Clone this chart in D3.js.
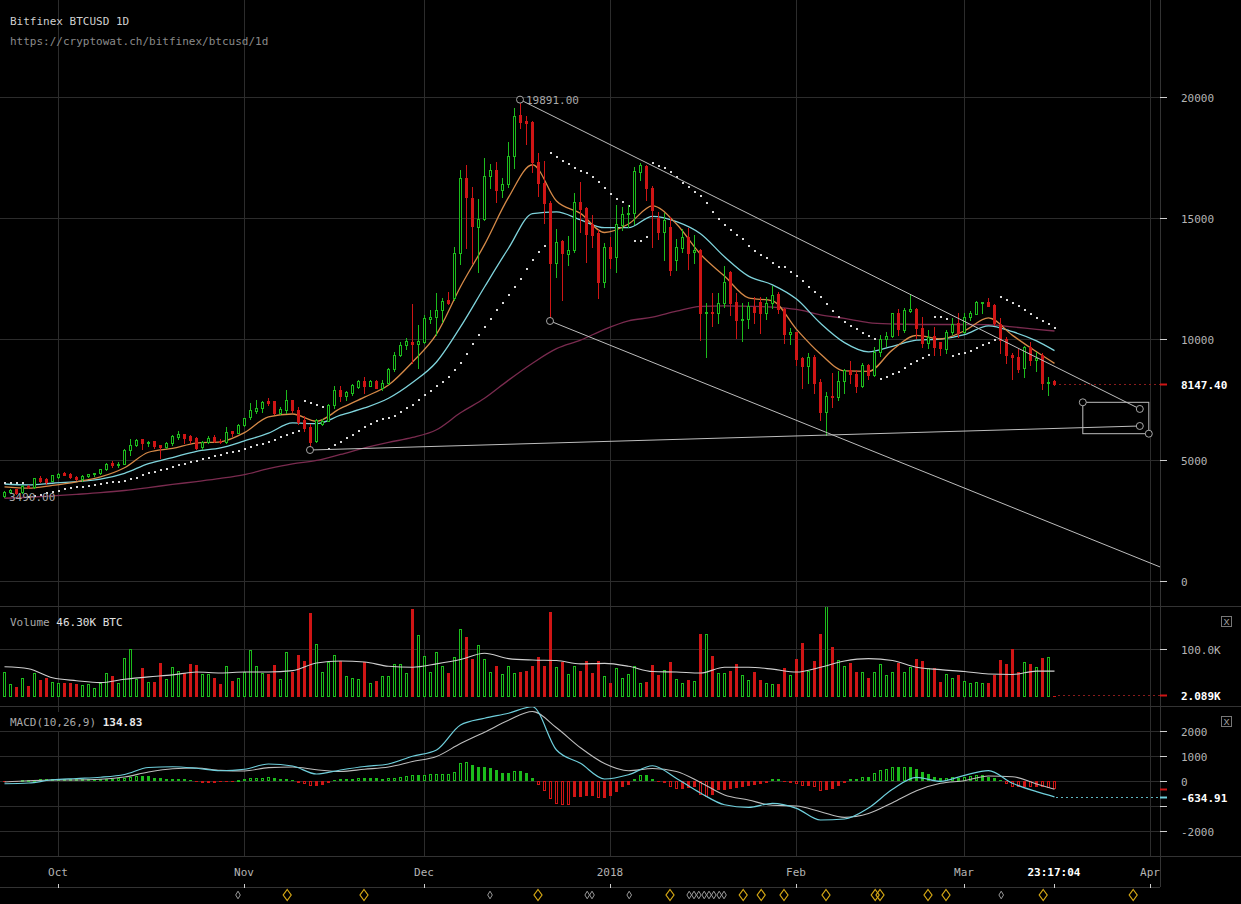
<!DOCTYPE html>
<html>
<head>
<meta charset="utf-8">
<script src="https://cdn.jsdelivr.net/npm/d3@7/dist/d3.min.js"></script>
<style>
  html, body { margin:0; padding:0; background:#000; overflow:hidden; }
  svg { display:block; }
  text { font-family: "DejaVu Sans Mono", "Liberation Mono", monospace; font-size: 11px; }
</style>
</head>
<body>
<svg id="chart" width="1241" height="904"></svg>
<script>
// ---------------- DATA ----------------
const startDate = "2017-09-22";           // first daily candle
const opens = [3520,3680,3788,3678,3926,3871,4270,4229,4146,4300,
4450,4410,4300,4215,4320,4421,4450,4630,4860,4780,
4830,5420,5620,5850,5700,5780,5600,5530,5700,5950,
6060,5990,5900,5520,5740,5960,5800,5740,6180,6130,
6446,6760,7040,7140,7420,7424,6956,7066,7466,7066,
6653,6377,5785,6500,6625,7273,7893,7658,7782,8030,
8278,8072,8278,7961,8196,8747,9339,9752,9890,9780,
9890,10813,10895,11200,11611,11700,13540,16639,15812,14642,
14944,16749,16983,16157,16391,17575,19256,19008,18953,17327,
16432,15633,13154,14050,13498,13678,15675,15427,14738,14366,
12369,13787,13374,14710,15165,15220,16900,17162,16226,14986,
14435,14641,13264,13747,14229,13609,13678,11061,11130,11061,
11474,12768,11515,10785,10826,11336,11543,11061,11474,11859,
11240,10193,10276,9201,8898,9270,8209,6997,7658,7590,
8264,8719,8554,8071,8926,8512,9449,9986,10138,11061,
10372,11171,11240,10441,9821,10138,9862,9573,10276,10647,
10303,10923,11033,11474,11515,11405,10606,10000,9339,9270,
8788,9683,9132,9339,8168,8264];
const highs = [3720,3800,3800,3950,3980,4270,4330,4250,4400,4450,
4500,4450,4330,4360,4440,4480,4640,4860,4940,4900,
5440,5850,5870,5880,5800,5800,5600,5730,6050,6190,
6080,6050,5960,5770,6000,6040,5850,6350,6200,6480,
6750,7340,7480,7430,7580,7440,7200,7890,7500,7180,
6800,6480,6700,6700,7300,8058,8058,7850,8120,8300,
8444,8300,8300,8300,8800,9476,9890,10028,11447,10579,
10992,11200,11887,11680,11956,13800,17000,17176,16294,15785,
17465,17231,17300,16639,18154,19559,19891,19228,19000,17700,
17355,15700,14532,14100,14270,16047,16501,15450,15124,14504,
13953,14229,15523,15468,15537,17093,17259,17190,16322,15261,
15220,15055,14118,14531,14573,14297,13700,11474,11915,11915,
13016,12800,11915,11474,11543,11749,11722,11749,12204,11956,
11267,10441,10303,9242,9435,9339,8361,7824,8581,8691,
8746,9091,8719,8994,8953,9656,10165,10303,11088,11226,
11267,11818,11267,10923,10372,10510,9890,10372,10882,11061,
11088,11171,11570,11543,11708,11432,10854,10096,9408,9573,
9724,9890,9449,9408,8416,8306];
const lows = [3490,3620,3600,3650,3850,3860,4110,4000,4130,4250,
4370,4250,4180,4150,4280,4350,4420,4600,4720,4730,
4820,5200,5560,5440,5580,5500,5100,5500,5610,5880,
5720,5690,5460,5470,5690,5740,5700,5700,6000,6100,
6400,6700,6950,6990,7270,6920,6900,6956,7000,6500,
6200,5413,5750,6450,6600,7150,7424,7500,7700,7980,
7755,8050,7961,7900,8150,8692,9300,9573,8995,8788,
9849,10647,10165,10716,11447,11600,13100,13746,13126,12755,
14900,16253,15675,15881,16300,17052,18700,18058,16900,15900,
14807,10744,12576,11611,13057,13600,14435,13195,13815,11680,
12135,12920,12782,14504,14642,14752,16570,15743,13815,14118,
13264,12644,12851,13608,12892,13127,9959,9270,10537,10647,
11336,10992,10028,9917,10468,10675,10262,10826,11267,11061,
9849,9793,8926,7962,8168,7782,6653,6033,7176,7479,
7755,8168,7824,8030,8333,8471,9311,9724,10096,10165,
10303,11130,10028,9683,9614,9339,9339,9408,10193,10096,
10234,10785,11019,11061,11350,10579,9408,9022,8333,8650,
8416,8926,8691,7920,7686,8099];
const closes = [3690,3780,3650,3926,3890,4242,4146,4091,4380,4421,
4400,4300,4215,4339,4421,4477,4630,4821,4780,4850,
5420,5640,5820,5700,5760,5580,5530,5700,5990,6080,
5900,5830,5500,5740,5900,5800,5740,6170,6130,6460,
6722,7050,7140,7410,7340,6956,7094,7479,7066,6584,
6340,5758,6653,6625,7273,7893,7645,7823,8099,8278,
8058,8278,7961,8196,8747,9339,9752,9918,9794,9918,
10882,10895,11200,11585,11502,13570,16639,15854,14683,14944,
16749,16983,16157,16391,17575,19228,18980,18925,17327,16432,
15633,13150,14022,13540,13678,15675,15358,14339,14297,12369,
13787,13333,14738,15165,15220,16955,17190,16226,15330,14435,
14917,12851,13787,14229,13540,13678,11061,11130,11061,11474,
12369,11474,10785,10826,11377,11130,11088,11474,11818,11226,
10193,10289,9174,8898,9270,8196,6970,7658,7590,8264,
8719,8554,8071,8926,8512,9449,10000,10138,11061,10399,
11198,11240,10441,9821,10096,9656,9614,10303,10620,10262,
10923,11061,11515,11515,11377,10647,9959,9339,9242,8760,
9683,9132,9201,8168,8237,8147.4];
// daily volume, thousands of BTC
const volumes = [52,27,21,40,23,49,36,40,32,30,
30,30,27,26,27,19,30,49,44,30,
81,100,38,60,32,32,70,38,62,54,
49,68,66,47,47,40,27,64,34,40,
52,98,64,49,47,66,38,94,52,87,
74,174,111,52,72,87,74,43,40,38,
72,30,34,44,44,68,68,49,183,130,
85,52,94,64,49,83,142,125,79,109,
79,52,64,47,64,49,52,54,65,83,
65,178,62,72,47,64,54,74,49,75,
44,30,60,40,47,64,30,32,66,45,
57,73,38,30,36,34,132,132,85,49,
49,55,68,45,36,52,36,30,28,27,
60,45,79,113,54,74,132,195,104,77,
64,70,53,53,40,52,68,45,53,70,
52,62,79,74,60,60,32,47,40,45,
34,30,32,30,30,45,77,68,100,53,
72,68,62,81,83,2.089];
// parabolic SAR, one dot per candle
const sar = [4060,4050,4040,4030,3490,3520,3560,3620,3680,3733,
3802,3829,3871,3898,3926,3953,3995,4036,4077,4105,
4146,4201,4256,4380,4449,4491,4587,4628,4697,4794,
4835,4904,4973,5028,5097,5165,5207,5276,5317,5386,
5441,5524,5606,5661,5730,5827,5964,6033,6130,6198,
7452,7370,7273,7204,5450,5600,5750,5900,6050,6200,
6350,6480,6600,6694,6740,6818,6970,7135,7273,7480,
7686,7865,8058,8237,8440,8700,9000,9400,9800,10150,
10500,10812,11198,11501,11818,12135,12479,12892,13264,13608,
13856,17699,17507,17355,17217,17052,16942,16845,16680,16501,
16253,15991,15785,15647,15495,14049,14049,14229,17259,17149,
17080,16914,16680,16460,16295,16088,15909,15606,15262,14958,
14711,14504,14297,14118,13843,13650,13471,13333,13154,12989,
12962,12782,12603,12397,12162,11928,11749,11446,11171,10923,
10716,10551,10399,10262,10124,10000,8333,8443,8540,8650,
8788,8953,9105,9201,9339,10923,10900,10826,9298,9366,
9435,9520,9620,9740,9840,9950,11722,11612,11501,11364,
11198,11019,10882,10758,10606,10441];
// indicator lines, read every 4th candle (plus the last one)
const sampleStep = 4;
const emaFast = [3890,3835,3950,4100,4300,4680,5320,5480,5700,5750,
6130,6780,6900,6600,7130,7600,8100,9050,10200,12160,
13900,15850,17200,15700,15190,14400,14750,15500,14750,13500,
12600,11700,11580,10400,9380,8680,8660,9550,10150,10000,
10340,10870,10150,9470,8994];
const emaSlow = [4008,3970,4040,4110,4210,4450,4850,5100,5360,5500,
5790,6110,6530,6500,6850,7150,7550,8200,9050,10500,
12150,13750,15180,15250,14920,14600,14600,15070,14850,14350,
13400,12600,12240,11650,10650,9850,9470,9700,9950,10000,
10180,10540,10300,9920,9518];
const smaLong = [3420,3460,3515,3580,3650,3740,3860,3990,4110,4240,
4400,4640,4840,4980,5230,5500,5730,5930,6250,6950,
7550,8300,9000,9600,9950,10400,10750,10900,11150,11350,
11370,11350,11320,11220,11000,10850,10680,10620,10600,10600,
10600,10590,10500,10400,10330];
const volMA = [63,59,40,34,30,37,42,46,52,50,
52,52,55,71,75,73,64,62,69,78,
91,80,77,76,69,70,64,53,52,50,
62,62,58,52,62,75,80,76,62,57,
53,48,47,54,54];
const macdLine = [-110,-80,50,100,150,260,540,570,510,410,
470,680,600,280,440,580,680,990,1240,2240,
2510,2710,2970,1240,707,80,250,610,100,-480,
-950,-1053,-893,-1093,-1560,-1520,-1080,-333,147,-13,
227,413,-93,-427,-634.91];
const signalLine = [-40,10,40,40,70,160,360,490,520,425,
400,535,560,450,380,470,560,780,980,1500,
1950,2430,2780,2130,1330,700,410,500,380,-60,
-560,-760,-973,-1000,-1227,-1453,-1300,-867,-387,-93,
13,200,173,-120,-333];
const macdHist = [-40,-27,-10,20,40,55,67,80,93,95,
90,85,80,75,72,70,75,85,95,105,
125,150,200,195,185,133,107,80,78,76,
67,40,-13,-20,-25,-27,-25,-20,-5,40,
80,107,120,133,147,133,93,80,40,-53,
-120,-200,-187,-173,-93,40,67,75,80,133,
120,115,100,90,107,133,173,200,240,230,
260,270,280,290,300,373,733,773,640,573,
560,533,440,333,330,400,390,307,107,-160,
-387,-733,-933,-955,-960,-627,-620,-600,-595,-693,
-667,-587,-427,-253,-160,67,240,235,80,-40,
-93,-253,-333,-330,-293,-253,-560,-627,-560,-360,
-355,-333,-293,-253,-200,-160,-120,-67,67,60,
-40,-67,-120,-200,-195,-253,-387,-360,-333,-200,
-67,67,65,173,170,333,440,467,573,547,
570,565,467,373,280,173,107,133,147,107,
147,200,240,235,173,133,40,-120,-227,-253,
-227,-253,-227,-253,-293,-302];
// drawing tools: [day offset from start, price]
const trendLines = [[[86,19891],[189.3,7110]], [[91,10744],[192.7,578]], [[51,5413],[189.3,6405]]];
const trendHandles = [[86,19891],[189.3,7110],[91,10744],[51,5413],[189.3,6405],[179.8,7384],[190.8,6087]];
const boxCorners = [[179.8,7384],[190.8,6087]];
// event markers along the bottom (day offsets)
const goldEvents = [47.2,60,89,111,123.2,126.2,130,137,145.2,146,154,157,173.2,188.2];
const grayEvents = [39,81,97.2,98,104.2,114.2,115,115.8,116.7,117.5,118.3,119.2,120,166.2];
// ticks
const priceTicks = [0,5000,10000,15000,20000];
const volTicks = [100];
const macdTicks = [2000,1000,0,-1000,-2000];
const macdTickLabels = ["2000","1000","0","","-2000"];
const monthTicks = ["2017-10-01","2017-11-01","2017-12-01","2018-01-01","2018-02-01","2018-03-01","2018-04-01"];
const monthLabels = ["Oct","Nov","Dec","2018","Feb","Mar","Apr"];
const lastPrice = 8147.40, lastVolume = 2.089, lastMacd = -634.91;
const highMark = 19891.00, lowMark = 3490.00;

// ---------------- CHART ----------------
const W = 1241, H = 904, PLOT_R = 1160, LABEL_X = 1181;
const GREEN = "#1cbc1c", RED = "#cf1515";
const svg = d3.select("#chart");
svg.append("rect").attr("width", W).attr("height", H).attr("fill", "#000");

const parse = d3.utcParse("%Y-%m-%d");
const t0 = parse(startDate);
const dayAt = d => new Date(t0.getTime() + d * 864e5);
const x = d3.scaleUtc().domain([dayAt(0), parse("2018-04-01")]).range([4, 1150]);
const X = d => Math.round(x(dayAt(d)));

const yP = d3.scaleLinear().domain([0, 20000]).range([581, 97]);
const yV = d3.scaleLinear().domain([0, 100]).range([697, 649]);
const yM = d3.scaleLinear().domain([0, 2000]).range([781, 731]);

const defs = svg.append("defs");
function clip(id, x0, y0, w, h) {
  defs.append("clipPath").attr("id", id).append("rect")
    .attr("x", x0).attr("y", y0).attr("width", w).attr("height", h);
}
clip("cp", 0, 0, PLOT_R, 604);
clip("cv", 0, 607, PLOT_R, 98);
clip("cm", 0, 707, PLOT_R, 148);

// grid
const grid = svg.append("g").attr("stroke", "#2c2c2c").attr("shape-rendering", "crispEdges");
monthTicks.forEach(m => {
  const xx = Math.round(x(parse(m))) + 0.5;
  grid.append("line").attr("x1", xx).attr("x2", xx).attr("y1", 0).attr("y2", 856);
});
priceTicks.forEach(v => { const yy = Math.round(yP(v)) + 0.5;
  grid.append("line").attr("x1", 0).attr("x2", PLOT_R).attr("y1", yy).attr("y2", yy); });
volTicks.forEach(v => { const yy = Math.round(yV(v)) + 0.5;
  grid.append("line").attr("x1", 0).attr("x2", PLOT_R).attr("y1", yy).attr("y2", yy); });
macdTicks.forEach(v => { const yy = Math.round(yM(v)) + 0.5;
  grid.append("line").attr("x1", 0).attr("x2", PLOT_R).attr("y1", yy).attr("y2", yy); });
const sep = svg.append("g").attr("stroke", "#333").attr("shape-rendering", "crispEdges");
[606.5, 706.5, 856.5].forEach(yy => sep.append("line").attr("x1", 0).attr("x2", W).attr("y1", yy).attr("y2", yy));
sep.append("line").attr("x1", 0).attr("x2", PLOT_R).attr("y1", 887.5).attr("y2", 887.5);
sep.append("line").attr("x1", PLOT_R + 0.5).attr("x2", PLOT_R + 0.5).attr("y1", 0).attr("y2", 887);

// header
svg.append("text").attr("x", 10).attr("y", 25).attr("fill", "#cfcfcf").text("Bitfinex BTCUSD 1D");
svg.append("text").attr("x", 10).attr("y", 45).attr("fill", "#8a8a8a").text("https://cryptowat.ch/bitfinex/btcusd/1d");

// ---------- price panel ----------
const gp = svg.append("g").attr("clip-path", "url(#cp)");
const lineGen = (yS) => d3.line().x(d => x(dayAt(d[0])) + 0.5).y(d => yS(d[1])).curve(d3.curveMonotoneX);
const sampleDays = d3.range(0, closes.length - 1, sampleStep).concat([closes.length - 1]);
const pairs = arr => arr.map((v, k) => [sampleDays[k], v]);

gp.append("path").attr("d", lineGen(yP)(pairs(smaLong))).attr("fill", "none").attr("stroke", "#7a2b4f").attr("stroke-width", 1.3);
gp.append("path").attr("d", lineGen(yP)(pairs(emaSlow))).attr("fill", "none").attr("stroke", "#7fd4dc").attr("stroke-width", 1.3);
gp.append("path").attr("d", lineGen(yP)(pairs(emaFast))).attr("fill", "none").attr("stroke", "#d68a48").attr("stroke-width", 1.3);

// SAR dots
gp.append("g").selectAll("rect").data(sar).join("rect")
  .attr("x", (d, i) => X(i)).attr("y", d => Math.round(yP(d)) - 1)
  .attr("width", 2).attr("height", 2).attr("fill", "#d8d8d8");

// candles
const candles = d3.range(closes.length).map(i => ({ i, o: opens[i], h: highs[i], l: lows[i], c: closes[i] }));
const cg = gp.append("g").attr("shape-rendering", "crispEdges");
candles.forEach(d => {
  const cx = X(d.i), up = d.c >= d.o, col = up ? GREEN : RED;
  cg.append("line").attr("x1", cx + 0.5).attr("x2", cx + 0.5)
    .attr("y1", Math.round(yP(d.h))).attr("y2", Math.round(yP(d.l)) + 1).attr("stroke", col);
  const top = Math.round(yP(Math.max(d.o, d.c))), bot = Math.round(yP(Math.min(d.o, d.c)));
  if (up) {
    cg.append("rect").attr("x", cx - 0.5).attr("y", top + 0.5).attr("width", 2)
      .attr("height", Math.max(1, bot - top)).attr("fill", "#000").attr("stroke", col);
  } else {
    cg.append("rect").attr("x", cx - 1).attr("y", top).attr("width", 3)
      .attr("height", Math.max(2, bot - top + 1)).attr("fill", col);
  }
});

// drawing tools
const tl = gp.append("g").attr("stroke", "#bdbdbd").attr("stroke-width", 1).attr("fill", "none");
trendLines.forEach(seg => tl.append("line")
  .attr("x1", x(dayAt(seg[0][0]))).attr("y1", yP(seg[0][1]))
  .attr("x2", x(dayAt(seg[1][0]))).attr("y2", yP(seg[1][1])));
tl.append("rect")
  .attr("x", x(dayAt(boxCorners[0][0]))).attr("y", yP(boxCorners[0][1]))
  .attr("width", x(dayAt(boxCorners[1][0])) - x(dayAt(boxCorners[0][0])))
  .attr("height", yP(boxCorners[1][1]) - yP(boxCorners[0][1]));
trendHandles.forEach(h => tl.append("circle").attr("cx", x(dayAt(h[0]))).attr("cy", yP(h[1]))
  .attr("r", 3.5).attr("fill", "#000").attr("stroke", "#a8a8a8"));

// high / low marks
const hiIdx = highs.indexOf(d3.max(highs)), loIdx = lows.indexOf(d3.min(lows));
svg.append("text").attr("x", x(dayAt(hiIdx)) + 6).attr("y", yP(highMark) + 4).attr("fill", "#a8a8a8").text(highMark.toFixed(2));
svg.append("text").attr("x", x(dayAt(loIdx)) + 5).attr("y", yP(lowMark) + 4).attr("fill", "#a8a8a8").text(lowMark.toFixed(2));

// last price line
const lastX = X(closes.length - 1);
const lpY = Math.round(yP(lastPrice)) + 0.5;
svg.append("line").attr("x1", lastX + 5).attr("x2", PLOT_R).attr("y1", lpY).attr("y2", lpY)
  .attr("stroke", "#8a1c1c").attr("stroke-dasharray", "2,3");

// price axis
priceTicks.forEach(v => {
  const yy = Math.round(yP(v)) + 0.5;
  svg.append("line").attr("x1", PLOT_R).attr("x2", PLOT_R + 7).attr("y1", yy).attr("y2", yy).attr("stroke", "#cfcfcf");
  svg.append("text").attr("x", LABEL_X).attr("y", yy + 4).attr("fill", "#b4b4b4").text(v);
});
svg.append("line").attr("x1", PLOT_R).attr("x2", PLOT_R + 7).attr("y1", lpY).attr("y2", lpY).attr("stroke", RED).attr("stroke-width", 2);
svg.append("text").attr("x", LABEL_X).attr("y", lpY + 4).attr("fill", "#fff").attr("font-weight", "bold").text(lastPrice.toFixed(2));

// ---------- volume panel ----------
const gv = svg.append("g").attr("clip-path", "url(#cv)").attr("shape-rendering", "crispEdges");
volumes.forEach((v, i) => {
  const cx = X(i), up = closes[i] >= opens[i], col = up ? GREEN : RED;
  const top = Math.round(yV(v)), base = Math.round(yV(0));
  if (up) gv.append("rect").attr("x", cx - 0.5).attr("y", top + 0.5).attr("width", 2).attr("height", Math.max(1, base - top - 1)).attr("fill", "#000").attr("stroke", col);
  else gv.append("rect").attr("x", cx - 1).attr("y", top).attr("width", 3).attr("height", Math.max(1, base - top)).attr("fill", col);
});
svg.append("g").attr("clip-path", "url(#cv)").append("path")
  .attr("d", lineGen(yV)(pairs(volMA))).attr("fill", "none").attr("stroke", "#cfcfcf").attr("stroke-width", 1.1);
const lvY = Math.round(yV(lastVolume)) - 0.5;
svg.append("line").attr("x1", lastX + 4).attr("x2", PLOT_R).attr("y1", lvY).attr("y2", lvY).attr("stroke", "#8a1c1c").attr("stroke-dasharray", "2,3");
volTicks.forEach(v => {
  const yy = Math.round(yV(v)) + 0.5;
  svg.append("line").attr("x1", PLOT_R).attr("x2", PLOT_R + 7).attr("y1", yy).attr("y2", yy).attr("stroke", "#cfcfcf");
  svg.append("text").attr("x", LABEL_X).attr("y", yy + 4).attr("fill", "#b4b4b4").text(d3.format(".1f")(v) + "K");
});
svg.append("line").attr("x1", PLOT_R).attr("x2", PLOT_R + 7).attr("y1", lvY).attr("y2", lvY).attr("stroke", RED).attr("stroke-width", 2);
svg.append("text").attr("x", LABEL_X).attr("y", lvY + 4).attr("fill", "#fff").attr("font-weight", "bold").text(d3.format(".3f")(lastVolume) + "K");
const vl = svg.append("text").attr("x", 10).attr("y", 626);
vl.append("tspan").attr("fill", "#a8a8a8").text("Volume ");
vl.append("tspan").attr("fill", "#e0e0e0").text("46.30K BTC");

// ---------- MACD panel ----------
const gm = svg.append("g").attr("clip-path", "url(#cm)").attr("shape-rendering", "crispEdges");
macdHist.forEach((h, i) => {
  const cx = X(i), col = h >= 0 ? GREEN : RED;
  const y0 = Math.round(yM(0)), yh = Math.round(yM(h));
  const top = Math.min(y0, yh), bot = Math.max(y0, yh);
  const growing = i > 0 && Math.abs(h) > Math.abs(macdHist[i - 1]);
  if (growing) gm.append("rect").attr("x", cx - 0.5).attr("y", top + 0.5).attr("width", 2).attr("height", Math.max(1, bot - top - 1)).attr("fill", "#000").attr("stroke", col);
  else gm.append("rect").attr("x", cx - 1).attr("y", top).attr("width", 3).attr("height", Math.max(1, bot - top)).attr("fill", col);
});
const gml = svg.append("g").attr("clip-path", "url(#cm)");
gml.append("path").attr("d", lineGen(yM)(pairs(signalLine))).attr("fill", "none").attr("stroke", "#bdbdbd").attr("stroke-width", 1.1);
gml.append("path").attr("d", lineGen(yM)(pairs(macdLine))).attr("fill", "none").attr("stroke", "#6fcfdc").attr("stroke-width", 1.2);
const lmY = Math.round(yM(lastMacd)) + 0.5;
svg.append("line").attr("x1", lastX + 2).attr("x2", PLOT_R).attr("y1", lmY).attr("y2", lmY).attr("stroke", "#5fb7c2").attr("stroke-dasharray", "2,3");
macdTicks.forEach((v, k) => {
  const yy = Math.round(yM(v)) + 0.5;
  svg.append("line").attr("x1", PLOT_R).attr("x2", PLOT_R + 7).attr("y1", yy).attr("y2", yy).attr("stroke", "#cfcfcf");
  if (macdTickLabels[k]) svg.append("text").attr("x", LABEL_X).attr("y", yy + 4).attr("fill", "#b4b4b4").text(macdTickLabels[k]);
});
const lhY = Math.round(yM(macdHist[macdHist.length - 1])) + 0.5;
svg.append("line").attr("x1", PLOT_R).attr("x2", PLOT_R + 7).attr("y1", lhY).attr("y2", lhY).attr("stroke", RED).attr("stroke-width", 2);
svg.append("line").attr("x1", PLOT_R).attr("x2", PLOT_R + 7).attr("y1", lmY).attr("y2", lmY).attr("stroke", "#6fcfdc").attr("stroke-width", 2);
svg.append("text").attr("x", LABEL_X).attr("y", lmY + 4).attr("fill", "#fff").attr("font-weight", "bold").text(lastMacd.toFixed(2));
svg.append("rect").attr("x", 0).attr("y", 712).attr("width", 146).attr("height", 19).attr("fill", "#000");
const ml = svg.append("text").attr("x", 10).attr("y", 726);
ml.append("tspan").attr("fill", "#a8a8a8").text("MACD(10,26,9) ");
ml.append("tspan").attr("fill", "#e8e8e8").attr("font-weight", "bold").text("134.83");

// close buttons
[622, 722].forEach(cy => {
  svg.append("rect").attr("x", 1221.5).attr("y", cy - 5.5).attr("width", 10).attr("height", 10).attr("fill", "none").attr("stroke", "#777");
  svg.append("text").attr("x", 1226.5).attr("y", cy + 3).attr("text-anchor", "middle").attr("fill", "#999").attr("font-size", "9px").text("x");
});

// ---------- time axis ----------
monthTicks.forEach((m, k) => {
  const xx = Math.round(x(parse(m)));
  svg.append("text").attr("x", xx).attr("y", 876).attr("text-anchor", "middle").attr("fill", "#b4b4b4").text(monthLabels[k]);
  svg.append("line").attr("x1", xx + 0.5).attr("x2", xx + 0.5).attr("y1", 884).attr("y2", 888).attr("stroke", "#cfcfcf");
});
svg.append("text").attr("x", lastX).attr("y", 876).attr("text-anchor", "middle").attr("fill", "#fff").attr("font-weight", "bold").text("23:17:04");
svg.append("line").attr("x1", lastX + 0.5).attr("x2", lastX + 0.5).attr("y1", 884).attr("y2", 888).attr("stroke", "#cfcfcf");

// event markers
const diamond = (cx, cy, w, h) => `M${cx},${cy - h}L${cx + w},${cy}L${cx},${cy + h}L${cx - w},${cy}Z`;
grayEvents.forEach(d => svg.append("path").attr("d", diamond(x(dayAt(d)), 895, 2.3, 3.8)).attr("fill", "none").attr("stroke", "#9a9a9a"));
goldEvents.forEach(d => svg.append("path").attr("d", diamond(x(dayAt(d)), 895, 4, 5.5)).attr("fill", "none").attr("stroke", "#d6a814").attr("stroke-width", 1.2));
</script>
</body>
</html>
